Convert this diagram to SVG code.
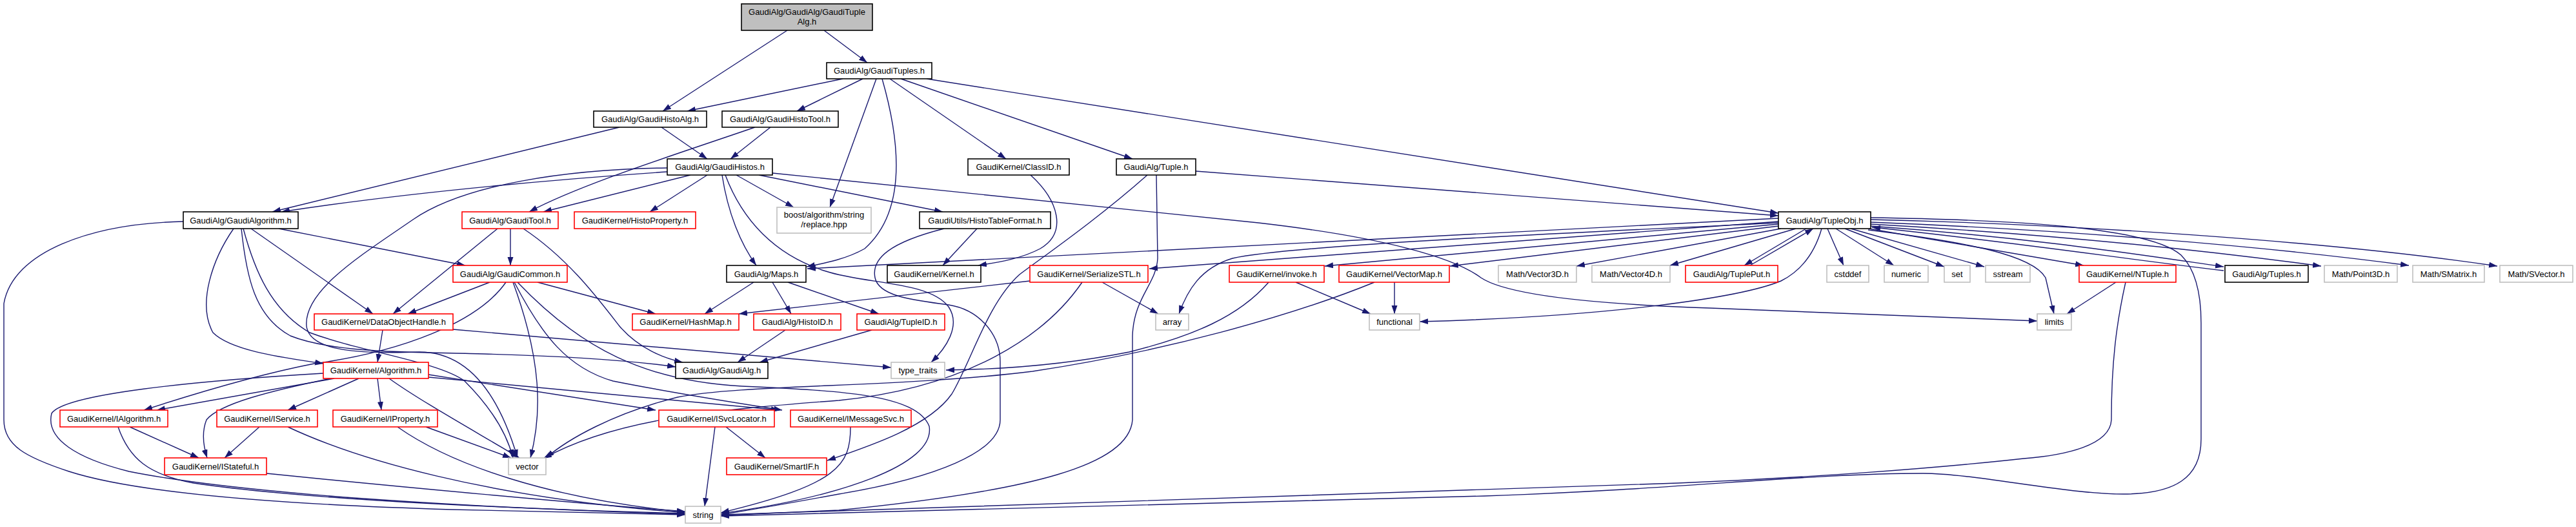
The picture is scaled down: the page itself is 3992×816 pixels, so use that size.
<svg xmlns="http://www.w3.org/2000/svg" width="3992" height="816" viewBox="0 0 3992 816">
<style>
rect{stroke-width:1.6}
.b{fill:#fff;stroke:#000}
.r{fill:#fff;stroke:#f00}
.g{fill:#fff;stroke:#bfbfbf}
.root{fill:#bfbfbf;stroke:#000}
text{font-family:"Liberation Sans",Arial,Helvetica,sans-serif;font-size:13px;fill:#000;text-anchor:middle}
.e{fill:none;stroke:#191970;stroke-width:1.4;marker-end:url(#ah)}
</style>
<defs>
<marker id="ah" markerUnits="userSpaceOnUse" markerWidth="14" markerHeight="10" refX="13" refY="4.5" orient="auto">
<path d="M0,0 L13,4.5 L0,9 z" fill="#191970"/>
</marker>
</defs>
<rect width="3992" height="816" fill="#fff"/>
<g id="edges">
<path class="e" d="M1220,47 L1027,172"/>
<path class="e" d="M1277,47 L1344,97"/>
<path class="e" d="M1306,122 L1065,172"/>
<path class="e" d="M1337,122 L1235,172"/>
<path class="e" d="M1358,122 L1286,321"/>
<path class="e" d="M1367,122 C1398,230 1402,330 1340,385 C1310,402 1275,408 1250,413"/>
<path class="e" d="M1379,122 L1559,246"/>
<path class="e" d="M1396,122 L1755,246"/>
<path class="e" d="M1436,122 L2756,330"/>
<path class="e" d="M1025,197 L1096,246"/>
<path class="e" d="M960,197 L422,328"/>
<path class="e" d="M1194,197 L1132,246"/>
<path class="e" d="M1170,197 C1060,235 900,285 820,328"/>
<path class="e" d="M1034,266 C900,275 650,295 436,328"/>
<path class="e" d="M1034,260 C880,262 720,285 640,340 C560,395 470,450 475,505 C480,545 560,548 650,545 C720,545 770,600 802,709"/>
<path class="e" d="M1070,271 L842,328"/>
<path class="e" d="M1096,271 L1007,328"/>
<path class="e" d="M1119,271 C1128,330 1148,378 1172,411"/>
<path class="e" d="M1124,271 C1150,340 1200,395 1280,420 C1340,440 1440,435 1470,475 C1490,505 1465,540 1443,561"/>
<path class="e" d="M1141,271 L1230,321"/>
<path class="e" d="M1176,271 L1461,328"/>
<path class="e" d="M1197,268 L1950,345 C2150,368 2255,400 2295,430 C2340,460 2500,472 2650,477 L3157,497"/>
<path class="e" d="M284,343 C140,346 20,390 6,470 L6,650 C6,690 40,708 107,730 C200,760 400,780 700,789 L1062,797"/>
<path class="e" d="M362,354 C330,400 305,470 330,515 C360,545 450,555 501,563"/>
<path class="e" d="M374,354 C382,430 395,490 450,520 C520,548 650,545 750,548 C900,552 990,560 1047,568"/>
<path class="e" d="M377,354 C395,420 420,480 480,515 C560,545 680,560 720,590 C760,630 785,670 795,709"/>
<path class="e" d="M389,354 L578,486"/>
<path class="e" d="M432,354 L721,411"/>
<path class="e" d="M791,354 L791,411"/>
<path class="e" d="M771,354 L609,486"/>
<path class="e" d="M811,354 C880,400 925,460 960,505 C990,540 1030,555 1058,561"/>
<path class="e" d="M759,437 L632,486"/>
<path class="e" d="M784,437 C740,500 620,545 487,563 C400,580 300,610 223,635"/>
<path class="e" d="M833,437 L1016,486"/>
<path class="e" d="M795,437 C840,560 840,640 822,709"/>
<path class="e" d="M797,437 C840,520 880,570 950,590 C1050,610 1150,625 1212,635"/>
<path class="e" d="M802,437 C900,540 1000,590 1150,598 C1300,605 1420,610 1440,660 C1450,720 1300,770 1117,795"/>
<path class="e" d="M593,511 L585,561"/>
<path class="e" d="M702,510 L1381,569"/>
<path class="e" d="M518,586 L243,635"/>
<path class="e" d="M556,586 L446,635"/>
<path class="e" d="M585,586 L591,635"/>
<path class="e" d="M512,586 C420,605 340,625 320,650 C312,670 315,690 321,709"/>
<path class="e" d="M603,586 C650,620 740,670 805,709"/>
<path class="e" d="M501,578 C300,590 100,610 80,640 C70,680 120,710 200,730 C400,770 800,788 1062,796"/>
<path class="e" d="M664,580 L1016,635"/>
<path class="e" d="M664,584 L1208,635"/>
<path class="e" d="M201,661 L308,709"/>
<path class="e" d="M183,661 C200,710 230,735 300,748 C450,770 700,785 1062,795"/>
<path class="e" d="M402,661 L348,709"/>
<path class="e" d="M446,661 C550,710 750,770 1062,794"/>
<path class="e" d="M660,661 L792,709"/>
<path class="e" d="M616,661 C700,720 850,772 1062,793"/>
<path class="e" d="M413,733 C600,752 900,780 1062,792"/>
<path class="e" d="M1108,661 L1092,784"/>
<path class="e" d="M1125,661 L1186,709"/>
<path class="e" d="M1318,661 C1318,720 1300,750 1117,794"/>
<path class="e" d="M1463,354 C1380,375 1350,400 1356,430 C1362,460 1420,465 1470,472 C1520,480 1550,520 1550,560 L1550,650 C1550,700 1450,740 1300,765 C1230,778 1160,790 1117,797"/>
<path class="e" d="M1514,354 L1461,411"/>
<path class="e" d="M1597,271 C1640,310 1655,360 1612,385 C1580,402 1540,407 1516,411"/>
<path class="e" d="M1853,265 L2756,334"/>
<path class="e" d="M1792,271 L1794,400 C1792,440 1757,460 1755,520 L1755,650 C1750,720 1600,760 1300,790 L1117,798"/>
<path class="e" d="M1778,271 C1700,340 1620,395 1580,425 C1530,470 1505,560 1475,610 C1440,660 1350,690 1282,713"/>
<path class="e" d="M2799,354 L2703,411"/>
<path class="e" d="M2712,411 L2810,354"/>
<path class="e" d="M2823,354 C2812,392 2790,420 2760,435 C2700,460 2500,490 2200,498"/>
<path class="e" d="M2832,354 L2857,411"/>
<path class="e" d="M2845,354 L2935,411"/>
<path class="e" d="M2859,354 L3013,413"/>
<path class="e" d="M2868,354 L3075,413"/>
<path class="e" d="M2896,354 L3229,411"/>
<path class="e" d="M2895,356 C3050,375 3150,395 3170,430 L3183,486"/>
<path class="e" d="M2899,340 C3200,347 3600,372 3870,412"/>
<path class="e" d="M2899,344 C3200,356 3500,380 3733,411"/>
<path class="e" d="M2899,347 C3200,364 3420,388 3597,412"/>
<path class="e" d="M2899,350 C3150,368 3320,395 3446,413"/>
<path class="e" d="M3446,419 C3300,402 3100,372 2901,352"/>
<path class="e" d="M2899,337 C3100,340 3330,350 3380,395 C3405,420 3411,460 3411,500 L3411,680 C3411,740 3370,765 3290,765 C3200,765 3060,733 2980,733 C2800,733 2600,758 2300,768 L1117,799"/>
<path class="e" d="M3279,437 L3203,486"/>
<path class="e" d="M3294,437 C3280,500 3272,560 3272,650 C3270,690 3200,705 3136,710 C3000,725 2800,740 2600,748 L1117,797"/>
<path class="e" d="M2756,338 L1251,416"/>
<path class="e" d="M2756,343 L1781,416"/>
<path class="e" d="M2756,345 C2400,362 2000,380 1910,400 C1860,415 1840,450 1827,486"/>
<path class="e" d="M2756,347 L2053,412"/>
<path class="e" d="M2756,350 L2247,412"/>
<path class="e" d="M2760,354 L2443,412"/>
<path class="e" d="M2783,354 L2588,411"/>
<path class="e" d="M2008,437 L2124,486"/>
<path class="e" d="M1966,437 C1920,490 1850,520 1750,545 C1650,565 1550,572 1466,573"/>
<path class="e" d="M2161,437 L2161,486"/>
<path class="e" d="M2130,437 C2000,490 1800,545 1600,575 C1400,600 1150,595 1050,615 C950,640 880,680 846,709"/>
<path class="e" d="M1596,435 L1145,486"/>
<path class="e" d="M1708,437 L1795,486"/>
<path class="e" d="M1677,437 C1620,520 1500,600 1300,620 C1100,635 950,650 842,710"/>
<path class="e" d="M1168,437 L1092,486"/>
<path class="e" d="M1197,437 L1226,486"/>
<path class="e" d="M1221,437 L1362,486"/>
<path class="e" d="M1217,511 L1143,561"/>
<path class="e" d="M1351,511 L1177,561"/>
</g>
<g id="n_root"><rect class="root" x="1149" y="6" width="203" height="41"/><text x="1250.5" y="23">GaudiAlg/GaudiAlg/GaudiTuple</text><text x="1250.5" y="38">Alg.h</text></g>
<g id="n_tuples"><rect class="b" x="1281" y="97" width="163" height="25"/><text x="1362.5" y="114">GaudiAlg/GaudiTuples.h</text></g>
<g id="n_histoalg"><rect class="b" x="920" y="172" width="175" height="25"/><text x="1007.5" y="189">GaudiAlg/GaudiHistoAlg.h</text></g>
<g id="n_histotool"><rect class="b" x="1119" y="172" width="180" height="25"/><text x="1209" y="189">GaudiAlg/GaudiHistoTool.h</text></g>
<g id="n_histos"><rect class="b" x="1034" y="246" width="163" height="25"/><text x="1115.5" y="263">GaudiAlg/GaudiHistos.h</text></g>
<g id="n_classid"><rect class="b" x="1500" y="246" width="157" height="25"/><text x="1578.5" y="263">GaudiKernel/ClassID.h</text></g>
<g id="n_tuple"><rect class="b" x="1730" y="246" width="123" height="25"/><text x="1791.5" y="263">GaudiAlg/Tuple.h</text></g>
<g id="n_gaudialgorithm"><rect class="b" x="284" y="328" width="178" height="26"/><text x="373" y="345.5">GaudiAlg/GaudiAlgorithm.h</text></g>
<g id="n_gauditool"><rect class="r" x="716" y="328" width="149" height="26"/><text x="790.5" y="345.5">GaudiAlg/GaudiTool.h</text></g>
<g id="n_histoproperty"><rect class="r" x="890" y="328" width="188" height="26"/><text x="984" y="345.5">GaudiKernel/HistoProperty.h</text></g>
<g id="n_boost"><rect class="g" x="1204" y="321" width="146" height="40"/><text x="1277" y="337">boost/algorithm/string</text><text x="1277" y="352">/replace.hpp</text></g>
<g id="n_histotable"><rect class="b" x="1425" y="328" width="203" height="26"/><text x="1526.5" y="345.5">GaudiUtils/HistoTableFormat.h</text></g>
<g id="n_tupleobj"><rect class="b" x="2756" y="328" width="143" height="26"/><text x="2827.5" y="345.5">GaudiAlg/TupleObj.h</text></g>
<g id="n_gaudicommon"><rect class="r" x="702" y="411" width="177" height="26"/><text x="790.5" y="428.5">GaudiAlg/GaudiCommon.h</text></g>
<g id="n_maps"><rect class="b" x="1126" y="411" width="123" height="26"/><text x="1187.5" y="428.5">GaudiAlg/Maps.h</text></g>
<g id="n_kernel"><rect class="b" x="1375" y="411" width="145" height="26"/><text x="1447.5" y="428.5">GaudiKernel/Kernel.h</text></g>
<g id="n_serializestl"><rect class="r" x="1596" y="411" width="183" height="26"/><text x="1687.5" y="428.5">GaudiKernel/SerializeSTL.h</text></g>
<g id="n_invoke"><rect class="r" x="1905" y="411" width="147" height="26"/><text x="1978.5" y="428.5">GaudiKernel/invoke.h</text></g>
<g id="n_vectormap"><rect class="r" x="2075" y="411" width="171" height="26"/><text x="2160.5" y="428.5">GaudiKernel/VectorMap.h</text></g>
<g id="n_vector3d"><rect class="g" x="2322" y="411" width="121" height="26"/><text x="2382.5" y="428.5">Math/Vector3D.h</text></g>
<g id="n_vector4d"><rect class="g" x="2467" y="411" width="121" height="26"/><text x="2527.5" y="428.5">Math/Vector4D.h</text></g>
<g id="n_tupleput"><rect class="r" x="2612" y="411" width="143" height="26"/><text x="2683.5" y="428.5">GaudiAlg/TuplePut.h</text></g>
<g id="n_cstddef"><rect class="g" x="2831" y="411" width="65" height="26"/><text x="2863.5" y="428.5">cstddef</text></g>
<g id="n_numeric"><rect class="g" x="2920" y="411" width="68" height="26"/><text x="2954" y="428.5">numeric</text></g>
<g id="n_set"><rect class="g" x="3013" y="411" width="40" height="26"/><text x="3033" y="428.5">set</text></g>
<g id="n_sstream"><rect class="g" x="3077" y="411" width="69" height="26"/><text x="3111.5" y="428.5">sstream</text></g>
<g id="n_ntuple"><rect class="r" x="3222" y="411" width="150" height="26"/><text x="3297" y="428.5">GaudiKernel/NTuple.h</text></g>
<g id="n_tuples2"><rect class="b" x="3448" y="411" width="129" height="26"/><text x="3512.5" y="428.5">GaudiAlg/Tuples.h</text></g>
<g id="n_point3d"><rect class="g" x="3602" y="411" width="113" height="26"/><text x="3658.5" y="428.5">Math/Point3D.h</text></g>
<g id="n_smatrix"><rect class="g" x="3739" y="411" width="111" height="26"/><text x="3794.5" y="428.5">Math/SMatrix.h</text></g>
<g id="n_svector"><rect class="g" x="3874" y="411" width="113" height="26"/><text x="3930.5" y="428.5">Math/SVector.h</text></g>
<g id="n_doh"><rect class="r" x="487" y="486" width="215" height="25"/><text x="594.5" y="503">GaudiKernel/DataObjectHandle.h</text></g>
<g id="n_hashmap"><rect class="r" x="980" y="486" width="165" height="25"/><text x="1062.5" y="503">GaudiKernel/HashMap.h</text></g>
<g id="n_histoid"><rect class="r" x="1168" y="486" width="135" height="25"/><text x="1235.5" y="503">GaudiAlg/HistoID.h</text></g>
<g id="n_tupleid"><rect class="r" x="1328" y="486" width="136" height="25"/><text x="1396" y="503">GaudiAlg/TupleID.h</text></g>
<g id="n_array"><rect class="g" x="1791" y="486" width="51" height="25"/><text x="1816.5" y="503">array</text></g>
<g id="n_functional"><rect class="g" x="2122" y="486" width="78" height="25"/><text x="2161" y="503">functional</text></g>
<g id="n_limits"><rect class="g" x="3157" y="486" width="53" height="25"/><text x="3183.5" y="503">limits</text></g>
<g id="n_algorithm"><rect class="r" x="501" y="561" width="163" height="25"/><text x="582.5" y="578">GaudiKernel/Algorithm.h</text></g>
<g id="n_gaudialg"><rect class="b" x="1047" y="561" width="143" height="25"/><text x="1118.5" y="578">GaudiAlg/GaudiAlg.h</text></g>
<g id="n_typetraits"><rect class="g" x="1381" y="561" width="83" height="25"/><text x="1422.5" y="578">type_traits</text></g>
<g id="n_ialgorithm"><rect class="r" x="93" y="635" width="167" height="26"/><text x="176.5" y="652.5">GaudiKernel/IAlgorithm.h</text></g>
<g id="n_iservice"><rect class="r" x="336" y="635" width="156" height="26"/><text x="414" y="652.5">GaudiKernel/IService.h</text></g>
<g id="n_iproperty"><rect class="r" x="516" y="635" width="162" height="26"/><text x="597" y="652.5">GaudiKernel/IProperty.h</text></g>
<g id="n_isvclocator"><rect class="r" x="1021" y="635" width="179" height="26"/><text x="1110.5" y="652.5">GaudiKernel/ISvcLocator.h</text></g>
<g id="n_imessagesvc"><rect class="r" x="1225" y="635" width="187" height="26"/><text x="1318.5" y="652.5">GaudiKernel/IMessageSvc.h</text></g>
<g id="n_istateful"><rect class="r" x="255" y="709" width="158" height="26"/><text x="334" y="726.5">GaudiKernel/IStateful.h</text></g>
<g id="n_vector"><rect class="g" x="788" y="709" width="58" height="26"/><text x="817" y="726.5">vector</text></g>
<g id="n_smartif"><rect class="r" x="1126" y="709" width="155" height="26"/><text x="1203.5" y="726.5">GaudiKernel/SmartIF.h</text></g>
<g id="n_string"><rect class="g" x="1062" y="784" width="55" height="26"/><text x="1089.5" y="801.5">string</text></g>
</svg>
